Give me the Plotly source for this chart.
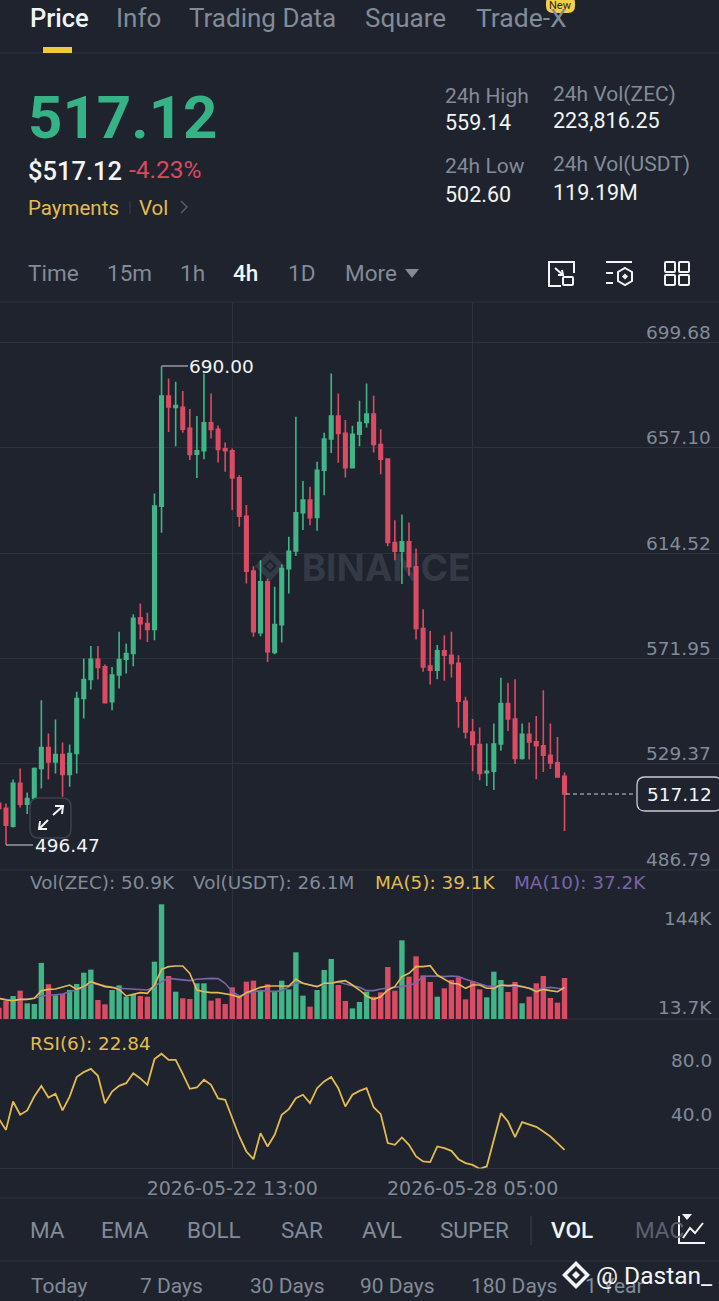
import pandas as pd
import plotly.graph_objects as go

# ---------- data ----------
START = "2026-05-17 01:00"
OPEN = [513.3,511.3,504.1,521.4,513.0,515.3,527.4,535.9,530.1,533.1,525.0,533.5,555.7,563.4,571.6,568.5,554.4,565.2,571.6,573.9,
        588.3,586.0,583.6,633.5,678.0,673.4,673.4,664.9,654.5,655.9,667.2,664.5,656.7,655.9,644.9,629.4,607.2,582.3,602.9,574.3,
        585.6,608.2,615.4,630.8,635.9,628.9,648.0,660.6,669.9,662.9,649.0,662.6,667.3,670.7,658.4,652.5,618.8,615.3,619.1,609.0,
        584.0,568.8,567.2,575.0,573.2,569.9,554.6,542.2,537.1,525.7,526.3,537.3,553.7,547.4,531.5,541.2,538.2,536.6,532.8,529.7,524.3]
HIGH = [514.0,513.3,523.0,527.4,517.7,527.8,555.0,541.6,547.2,537.9,537.1,558.4,571.9,576.9,576.9,569.5,568.5,582.7,578.0,589.8,
        594.1,590.4,638.6,690.0,685.1,683.8,680.0,672.7,669.9,687.1,679.0,666.1,659.2,656.8,646.0,633.9,609.2,611.6,604.2,600.9,
        609.9,621.1,669.6,643.6,641.3,651.4,663.1,687.1,679.0,668.3,666.0,676.1,683.1,678.1,664.6,652.8,627.8,630.1,626.9,616.4,
        591.8,583.0,577.3,581.3,582.7,573.2,556.4,547.4,544.0,537.5,545.6,564.1,562.1,563.5,545.6,546.0,548.6,559.1,545.6,540.2,525.8]
LOW = [509.2,496.47,503.6,511.7,509.0,514.6,519.3,523.0,525.4,516.0,520.0,525.4,547.6,559.4,563.4,553.7,551.0,559.8,565.8,568.8,
       579.6,578.6,579.3,622.7,663.5,657.7,663.1,652.1,644.9,652.4,660.8,651.1,647.4,631.9,625.1,602.2,580.7,580.9,570.5,573.6,
       578.4,598.2,613.3,623.8,625.8,623.5,637.9,655.0,651.0,645.1,649.0,657.7,665.3,655.2,646.4,617.3,611.6,602.0,605.3,579.6,
       566.5,561.4,563.5,562.9,564.2,543.9,539.5,526.3,522.7,520.3,518.7,534.6,542.6,529.2,531.1,531.1,523.1,526.0,527.2,523.8,502.2]
CLOSE = [511.3,504.5,521.4,513.0,515.3,527.4,535.9,530.1,533.1,525.0,533.5,555.7,563.4,571.6,568.3,554.0,565.2,571.5,573.9,588.1,
         586.0,583.6,633.5,678.0,673.6,674.1,664.6,654.4,655.9,667.2,664.5,656.4,655.9,644.9,629.4,607.2,582.7,602.9,574.6,585.6,
         608.2,615.2,630.8,635.9,628.8,648.0,660.6,669.9,662.9,649.0,662.5,667.3,670.7,658.4,652.5,618.8,615.3,619.1,609.0,584.0,
         568.5,567.2,575.0,573.2,569.9,554.6,542.2,537.1,525.4,526.3,537.3,553.7,547.4,531.5,541.2,538.2,536.6,532.8,529.7,524.0,517.12]
VOLUME = [14.1,22.4,28.6,35.2,19.5,18.6,69.6,43.1,29.4,31.1,36.0,43.5,57.5,61.3,23.6,18.2,36.0,41.8,27.7,31.1,
          28.6,27.7,71.2,142.4,53.4,33.9,25.7,24.8,44.3,44.3,22.8,25.7,18.6,39.3,28.6,46.4,47.6,35.2,43.1,35.2,
          47.6,36.8,82.8,29.0,15.3,36.0,60.9,74.5,42.2,22.4,13.2,21.1,33.9,27.7,33.1,64.6,35.2,97.7,52.6,77.8,
          54.2,46.0,27.7,38.1,48.4,51.8,24.4,46.4,36.8,26.9,58.8,48.4,33.5,46.0,19.5,27.7,44.3,53.4,26.1,20.3,50.9]
MA5 = [25.7,23.6,22.8,24.4,24.4,25.7,35.2,36.8,37.3,40.2,42.2,36.8,40.2,46.4,43.5,40.2,39.3,36.8,28.6,31.1,
       32.7,31.9,42.2,61.7,65.0,65.8,65.8,56.7,36.0,33.9,32.7,32.7,31.1,29.8,26.9,32.7,36.0,39.3,41.0,41.0,
       41.0,41.0,49.3,44.3,42.2,40.2,44.3,44.3,46.4,47.6,42.2,36.0,28.6,24.4,27.7,36.0,40.2,52.6,56.7,65.0,
       65.0,66.2,54.6,49.3,44.3,43.5,38.1,42.2,42.2,38.1,38.1,42.2,41.4,42.2,40.2,38.1,33.9,36.8,35.2,33.9,39.1]
MA10 = [25.7,24.4,22.8,23.6,24.4,25.7,28.6,29.4,29.8,31.1,33.9,36.0,39.3,44.3,43.1,41.0,39.3,38.1,37.7,37.3,
        36.8,36.0,40.2,46.4,50.5,49.3,48.4,47.6,49.3,50.1,50.5,50.1,44.3,33.9,28.6,31.1,33.9,35.2,34.4,33.9,
        35.2,40.2,45.1,44.3,42.2,40.2,43.5,44.3,46.0,43.5,41.0,39.3,35.2,35.2,37.3,38.5,39.3,40.2,41.4,45.1,
        52.6,53.4,52.6,52.6,53.4,52.6,49.3,46.4,43.5,41.0,40.2,41.8,41.0,41.0,40.2,38.1,36.0,38.1,39.3,38.1,37.2]
RSI6 = [45.6,37.6,58.6,48.8,52.0,62.3,70.2,61.6,64.3,52.0,62.3,76.7,80.4,82.8,77.7,57.4,66.0,70.2,72.2,79.6,
        75.7,71.0,90.0,94.0,89.5,89.5,79.1,68.0,69.0,74.7,71.0,60.9,59.9,46.3,32.7,21.6,15.9,35.2,25.3,34.0,
        48.8,53.0,61.1,63.6,57.4,68.5,73.5,76.7,68.5,54.9,63.6,66.5,68.5,54.4,49.3,27.8,26.5,32.0,26.5,17.9,
        14.2,13.7,25.3,24.1,22.1,15.9,13.0,11.7,8.8,10.5,29.8,50.0,43.8,32.2,43.3,41.4,39.9,36.4,32.7,27.8,22.84]
PRICE_TICKS = [699.68, 657.10, 614.52, 571.95, 529.37, 486.79]
DATE_TICKS = ["2026-05-22 13:00", "2026-05-28 05:00"]

# ---------- styling ----------
BG = "#1e232d"; GRID = "#2d333d"; GREEN = "#41b587"; RED = "#dc4b64"
GRAY = "#828b98"; WHITE = "#f3f4f5"; YELLOW = "#e3bb50"; PURPLE = "#7a64ab"
NUM = "DejaVu Sans"; UI = "Roboto"
W, H = 719, 1301
times = pd.date_range(START, periods=len(OPEN), freq="4h")
t0 = pd.Timestamp(START) + pd.Timedelta(hours=4)     # candle that sits at pixel 6
span = pd.Timedelta(hours=4) / 7.07
xrange = [t0 - 6 * span, t0 + (W - 6) * span]
up = [c >= o for o, c in zip(OPEN, CLOSE)]
X = lambda x: x / W
Y = lambda y: 1 - y / H

fig = go.Figure()
fig.add_trace(go.Candlestick(x=times, open=OPEN, high=HIGH, low=LOW, close=CLOSE, whiskerwidth=0, showlegend=False,
                             increasing=dict(line=dict(color=GREEN, width=1.6), fillcolor=GREEN),
                             decreasing=dict(line=dict(color=RED, width=1.6), fillcolor=RED)))
fig.add_trace(go.Bar(x=times, y=VOLUME, marker=dict(color=[GREEN if u else RED for u in up], line_width=0),
                     xaxis="x2", yaxis="y2", showlegend=False))
fig.add_trace(go.Scatter(x=times, y=MA10, mode="lines", line=dict(color=PURPLE, width=1.6), xaxis="x2", yaxis="y2", showlegend=False))
fig.add_trace(go.Scatter(x=times, y=MA5, mode="lines", line=dict(color=YELLOW, width=1.6), xaxis="x2", yaxis="y2", showlegend=False))
fig.add_trace(go.Scatter(x=times, y=RSI6, mode="lines", line=dict(color=YELLOW, width=1.8), xaxis="x3", yaxis="y3", showlegend=False))

xcommon = dict(type="date", range=xrange, tickvals=DATE_TICKS, showgrid=True, gridcolor=GRID, gridwidth=1,
               zeroline=False, showline=False, ticks="", rangeslider=dict(visible=False))

shapes, annots = [], []

def A(x, y, text, size=20, color=GRAY, anchor="left", weight=400, family=UI):
    nudge = {"left": -1.5, "right": 1.5}.get(anchor, 0)
    annots.append(dict(x=X(x + nudge), y=Y(y), xref="paper", yref="paper", text=text, showarrow=False, xanchor=anchor,
                       yanchor="middle", font=dict(size=size, color=color, family=family, weight=weight),
                       borderpad=0, align=anchor))

def L(x0, y0, x1, y1, color=GRID, width=1, dash="solid", layer="below"):
    shapes.append(dict(type="line", xref="paper", yref="paper", x0=X(x0), y0=Y(y0), x1=X(x1), y1=Y(y1),
                       line=dict(color=color, width=width, dash=dash), layer=layer))

def R(x0, y0, x1, y1, r=0, stroke=None, fill=None, width=1.5, layer="above"):
    if r:
        p = (f"M {X(x0+r)} {Y(y0)} L {X(x1-r)} {Y(y0)} Q {X(x1)} {Y(y0)} {X(x1)} {Y(y0+r)} L {X(x1)} {Y(y1-r)} "
             f"Q {X(x1)} {Y(y1)} {X(x1-r)} {Y(y1)} L {X(x0+r)} {Y(y1)} Q {X(x0)} {Y(y1)} {X(x0)} {Y(y1-r)} "
             f"L {X(x0)} {Y(y0+r)} Q {X(x0)} {Y(y0)} {X(x0+r)} {Y(y0)} Z")
        s = dict(type="path", path=p)
    else:
        s = dict(type="rect", x0=X(x0), y0=Y(y0), x1=X(x1), y1=Y(y1))
    s.update(xref="paper", yref="paper", layer=layer, fillcolor=fill or "rgba(0,0,0,0)",
             line=dict(color=stroke or "rgba(0,0,0,0)", width=width if stroke else 0))
    shapes.append(s)

def P(points, stroke=None, fill=None, width=2, layer="above", close=False):
    p = "M " + " L ".join(f"{X(a)} {Y(b)}" for a, b in points) + (" Z" if close else "")
    shapes.append(dict(type="path", path=p, xref="paper", yref="paper", layer=layer,
                       fillcolor=fill or "rgba(0,0,0,0)",
                       line=dict(color=stroke or "rgba(0,0,0,0)", width=width if stroke else 0)))

def D(cx, cy, r, fill, layer="above"):
    P([(cx, cy - r), (cx + r, cy), (cx, cy + r), (cx - r, cy)], fill=fill, layer=layer, close=True)

# ---- structure lines
for yy in (53, 302, 1198, 1261):
    L(0, yy, W, yy)
L(0, 870, W, 870); L(0, 1019, W, 1019); L(0, 1168.5, W, 1168.5)

# ---- tabs
A(30, 18, "Price", 25.5, WHITE, weight=500)
A(116, 18, "Info", 26); A(189, 18, "Trading Data", 26); A(365, 18, "Square", 26); A(476, 18, "Trade-X", 26.5)
R(546, -4, 575, 13, r=7, fill="#f3cf4a")
A(560.5, 6, "New", 11, "#2a2a20", "center")
R(43, 47, 72, 53, fill="#f0c93f")

# ---- price block
A(28, 117, "517.12", 60, "#36b287", weight=700)
A(28, 171, "$517.12", 25.5, WHITE, weight=500)
A(129, 170, "-4.23%", 24.5, "#d94a61")
A(28, 208, "Payments", 20.5, YELLOW); A(139, 208, "Vol", 20.5, YELLOW)
L(130, 201, 130, 214, "#3a404a", 1, layer="above")
P([(181, 201), (187, 207), (181, 213)], stroke="#5a616c", width=1.4)
for x, lab1, v1, lab2, v2, dy in [(445, "24h High", "559.14", "24h Low", "502.60", 0),
                                  (553, "24h Vol(ZEC)", "223,816.25", "24h Vol(USDT)", "119.19M", -2)]:
    A(x, 96 + dy, lab1, 21); A(x, 123 + dy, v1, 21.5, WHITE)
    A(x, 166 + dy, lab2, 21); A(x, 194 + dy, v2, 21.5, WHITE)

# ---- interval bar
for x, t in [(28, "Time"), (107, "15m"), (180, "1h"), (288, "1D"), (345, "More")]:
    A(x, 273, t, 22.5)
A(233, 273, "4h", 22.5, WHITE, weight=500)
P([(405, 269), (419, 269), (412, 278)], fill=GRAY, close=True)
# icons
P([(561, 286), (549, 286), (549, 262), (574, 262), (574, 273)], stroke=WHITE, width=2)
R(563, 277, 573, 285, r=1, stroke=WHITE, width=2)
P([(555, 268), (563, 275)], stroke=WHITE, width=2); P([(562, 270), (563, 275), (558, 275)], stroke=WHITE, width=2)
L(606, 262, 632, 262, WHITE, 2, layer="above"); L(606, 273, 613, 273, WHITE, 2, layer="above"); L(606, 283, 613, 283, WHITE, 2, layer="above")
P([(625, 268), (632, 272), (632, 281), (625, 285), (618, 281), (618, 272)], stroke=WHITE, width=2, close=True)
D(625, 276.5, 3, WHITE)
for xx in (665, 679):
    for yy in (262, 275):
        R(xx, yy, xx + 10, yy + 10, r=1, stroke=WHITE, width=2)

# ---- watermark under candles
shapes.append(dict(type="rect", xref="paper", yref="paper", x0=X(296), x1=X(476), y0=Y(548), y1=Y(584), layer="below",
                   line=dict(width=0), fillcolor="rgba(0,0,0,0)",
                   label=dict(text="BINANCE", font=dict(size=37, color="#343a45", family="Inter", weight=700),
                              textposition="middle center")))
D(270, 566, 15, "#343a45", "below"); D(270, 566, 7, BG, "below"); D(270, 566, 4, "#343a45", "below")

# ---- price scale labels, placed through the price axis just above each grid line
for v in PRICE_TICKS:
    annots.append(dict(x=X(712.5), xref="paper", y=v, yref="y", yshift=10, text=f"{v:.2f}", showarrow=False,
                       xanchor="right", yanchor="middle", font=dict(size=18.5, color=GRAY, family=NUM)))

# ---- markers on the price pane
L(161.5, 366, 188, 366, "#cfd2d6", 1, layer="above")
A(190, 367, "690.00", 18.5, WHITE, family=NUM)
L(6, 845, 33, 845, "#cfd2d6", 1, layer="above")
A(35, 846, "496.47", 18.5, WHITE, family=NUM)
R(30, 798, 71, 838, r=9, stroke="#3d434e", fill=BG, width=1.5)
P([(40, 828), (48, 820)], stroke=WHITE, width=2); P([(40, 821), (39, 829), (47, 829)], stroke=WHITE, width=2)
P([(53, 815), (62, 807)], stroke=WHITE, width=2); P([(55, 806), (63, 806), (62, 814)], stroke=WHITE, width=2)
# last price tag
L(566, 794, 636, 794, "#c9ccd1", 1, "4px,3px", "above")
R(637, 777, 722, 811, r=8, stroke="#c9ccd1", fill=BG, width=1.3)
A(711, 794, "517.12", 18.5, WHITE, "right", family=NUM)

# ---- pane legends and scale labels
A(30, 883, "Vol(ZEC): 50.9K", 18.4, GRAY, family=NUM)
A(193, 883, "Vol(USDT): 26.1M", 18.4, GRAY, family=NUM)
A(375, 883, "MA(5): 39.1K", 18.4, YELLOW, family=NUM)
A(514, 883, "MA(10): 37.2K", 18.4, PURPLE, family=NUM)
A(711, 918, "144K", 18.5, GRAY, "right", family=NUM)
A(711, 1007, "13.7K", 18.5, GRAY, "right", family=NUM)
A(30, 1043, "RSI(6): 22.84", 18.4, YELLOW, family=NUM)
A(711, 1060, "80.0", 18.5, GRAY, "right", family=NUM)
A(711, 1114, "40.0", 18.5, GRAY, "right", family=NUM)

# ---- indicator row
for x, t in [(30, "MA"), (102, "EMA"), (187, "BOLL"), (281, "SAR"), (362, "AVL"), (441, "SUPER")]:
    A(x, 1230, t, 22.5)
L(531, 1216, 531, 1245, "#3a404a", 1, layer="above")
A(551, 1230, "VOL", 22.5, WHITE, weight=500)
A(635, 1230, "MAC", 22.5, "#5b626d")
P([(679, 1216), (679, 1243), (705, 1243)], stroke=WHITE, width=2)
P([(683, 1238), (690, 1228), (695, 1233), (703, 1223)], stroke=WHITE, width=2)
P([(682, 1214), (692, 1214), (687, 1220)], fill=WHITE, close=True)

# ---- range row + signature
for x, t in [(31, "Today"), (140, "7 Days"), (250, "30 Days"), (360, "90 Days"), (471, "180 Days"), (585, "1 Year")]:
    A(x, 1286, t, 21)
D(576, 1275, 14, WHITE); D(576, 1275, 9, BG); D(576, 1275, 4, WHITE)
A(596, 1275, "@ Dastan_", 24.5, WHITE)

fig.update_layout(
    width=W, height=H, margin=dict(l=0, r=0, t=0, b=0), paper_bgcolor=BG, plot_bgcolor=BG,
    showlegend=False, bargap=0.24, boxgap=0.3, hovermode=False,
    xaxis=dict(**xcommon, domain=[0, 1], anchor="y", showticklabels=False),
    xaxis2=dict(**xcommon, domain=[0, 1], anchor="y2", showticklabels=False, matches="x"),
    xaxis3=dict(**xcommon, domain=[0, 1], anchor="y3", showticklabels=True, matches="x", ticktext=DATE_TICKS,
                ticklabelstandoff=6, tickfont=dict(size=19, color=GRAY, family=NUM)),
    yaxis=dict(domain=[Y(869), Y(303)], range=[486.79, 715.6], side="right", anchor="x", tickvals=PRICE_TICKS,
               showticklabels=False, showgrid=True, gridcolor=GRID, zeroline=False),
    yaxis2=dict(domain=[Y(1019), Y(870)], range=[0, 185], anchor="x2", showgrid=False, zeroline=False, showticklabels=False),
    yaxis3=dict(domain=[Y(1168.5), Y(1020)], range=[9.0, 119.0], anchor="x3", showgrid=False, zeroline=False, showticklabels=False),
    shapes=shapes, annotations=annots,
)
fig.write_html("out.html", config=dict(displayModeBar=False, staticPlot=True),
               post_script="document.body.style.margin='0';document.body.style.overflow='hidden';document.documentElement.style.overflow='hidden';")
